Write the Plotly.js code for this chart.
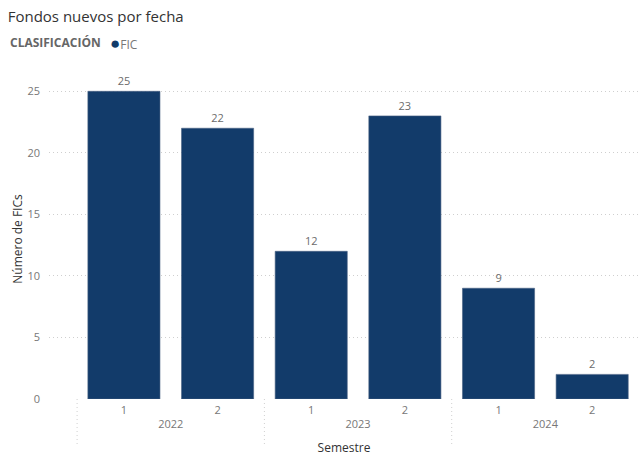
<!DOCTYPE html>
<html>
<head>
<meta charset="utf-8">
<script src="https://cdn.plot.ly/plotly-3.0.1.min.js"></script>
<style>html,body{margin:0;padding:0;background:#fff;}</style>
</head>
<body>
<div id="chart" style="width:640px;height:457px;"></div>
<script>
const years = ['2022','2022','2023','2023','2024','2024'];
const semesters = ['1','2','1','2','1','2'];
const fics = [25, 22, 12, 23, 9, 2];
const seriesName = 'FIC';
const legendTitle = 'CLASIFICACIÓN';
const yTicks = [0, 5, 10, 15, 20, 25];

const font = '"Segoe UI", "Open Sans", "Noto Sans", sans-serif';
const barColor = '#123B6A';

const traces = [
  {
    type: 'bar',
    name: seriesName,
    x: [years, semesters],
    y: fics,
    marker: {color: barColor, line: {color: '#4a6283', width: 0.6}},
    width: 0.77,
    text: fics.map(String),
    textposition: 'outside',
    cliponaxis: false,
    textfont: {family: font, size: 11, color: '#6b6b6b'},
    showlegend: false,
    hoverinfo: 'x+y'
  }
];

const shapes = [];
[-0.5, 1.5, 3.5].forEach(function(p){
  shapes.push({type:'line', xref:'x', yref:'paper', x0:p, x1:p, y0:0, y1:-0.145,
    line:{color:'#d0d0d0', width:1, dash:'1px,3px'}});
});

const annotations = [
  {xref:'paper', yref:'paper', x:-0.0695, y:1.1125, xanchor:'left', yanchor:'middle', showarrow:false,
   text: '<b>' + legendTitle + '</b>', font:{family: font, size: 12, color:'#666666'}},
  {xref:'paper', yref:'paper', x:0.1, y:1.1125, xanchor:'left', yanchor:'middle', showarrow:false,
   text: '<span style="color:' + barColor + ';font-size:17px">●</span>' + seriesName,
   font:{family: font, size: 12, color:'#777777'}}
];

const layout = {
  width: 640, height: 457,
  margin: {l: 49, r: 1, t: 79, b: 58, pad: 0},
  paper_bgcolor: '#ffffff', plot_bgcolor: '#ffffff',
  font: {family: font, color: '#666666'},
  title: {text: 'Fondos nuevos por fecha', x: 0.012, xanchor: 'left', y: 0.975, yanchor: 'top',
    font: {family: font, size: 15, color: '#333333'}},
  showlegend: false,
  xaxis: {
    type: 'multicategory',
    range: [-0.8, 5.5],
    showdividers: false,
    showgrid: false, zeroline: false, showline: false, ticks: '',
    tickfont: {family: font, size: 11, color: '#777777'},
    ticklabelstandoff: 3,
    title: {text: 'Semestre', font: {family: font, size: 12, color: '#333333'}, standoff: 13}
  },
  yaxis: {
    range: [0, 26],
    tickvals: yTicks,
    showgrid: true, gridcolor: '#cfcfcf', griddash: '1px,3px', gridwidth: 1,
    zeroline: false, showline: false, ticks: '',
    tickfont: {family: font, size: 11, color: '#777777'},
    ticklabelstandoff: 8,
    title: {text: 'Número de FICs', font: {family: font, size: 12, color: '#333333'}, standoff: 2}
  },
  shapes: shapes,
  annotations: annotations
};

Plotly.newPlot('chart', traces, layout, {displayModeBar: false, staticPlot: true});
</script>
</body>
</html>
